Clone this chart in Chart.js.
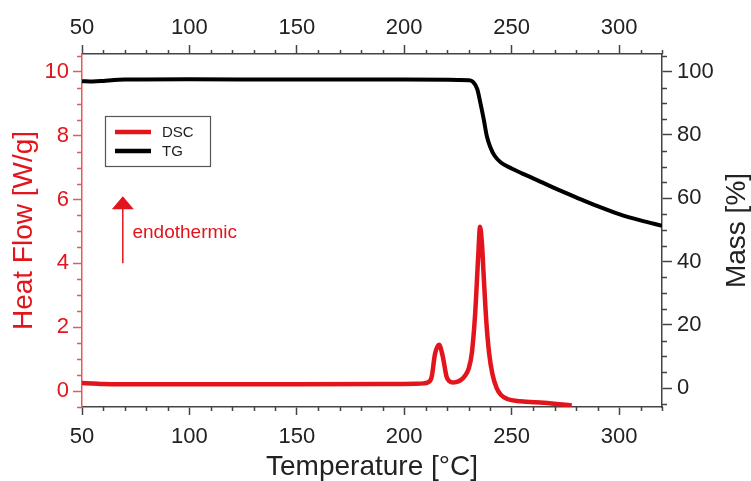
<!DOCTYPE html>
<html><head><meta charset="utf-8">
<script src="https://cdn.jsdelivr.net/npm/chart.js@4.4.0/dist/chart.umd.min.js"></script>
<style>html,body{margin:0;padding:0;background:#fff;}</style>
</head><body>
<canvas id="c" width="751" height="481"></canvas>
<script>
// ---- data ----
const dscTemp = [50,55,60,80,100,150,190,205,209,211,212.8,214.3,216.2,217.9,219.7,221,222.8,224,226,228,230,231.5,233,234.5,235.3,236.2,237,238.2,239.5,241,243,245,248,254,265,278];
const dscHeat = [0.25,0.24,0.22,0.21,0.21,0.21,0.22,0.23,0.24,0.27,0.45,1.15,1.45,1.1,0.45,0.31,0.27,0.28,0.33,0.45,0.7,1.2,2.4,4.3,5.15,4.6,3.6,2.2,1.2,0.55,0.1,-0.12,-0.25,-0.32,-0.37,-0.45];
const tgTemp = [50,55,60,65,70,100,150,200,225,230,232,234,235.5,237,238.5,240,242,245,250,255,260,270,280,290,300,310,320];
const tgMass = [97.0,96.9,97.1,97.4,97.5,97.6,97.5,97.5,97.4,97.3,96.8,94.5,90,85,79.5,76.3,73.5,71.3,69.4,67.8,66.3,63.2,60.3,57.5,55.0,53.0,51.3];
const tempTicks = [50,100,150,200,250,300];
const heatTicks = [0,2,4,6,8,10];
const massTicks = [0,20,40,60,80,100];
const seriesLabels = ['DSC','TG'];
const axisTitles = { x: 'Temperature [°C]', y: 'Heat Flow [W/g]', y2: 'Mass [%]' };
const arrowText = 'endothermic';

const RED = '#e3141b';
const FONT = "'Liberation Sans', Arial, sans-serif";

const minorX = []; for (let v = 60; v <= 320; v += 10) if (v % 50) minorX.push(v);
const minorY = []; for (let v = -0.5; v <= 10.5; v += 0.5) if (v % 2) minorY.push(v);
const minorY2 = []; for (let v = -5; v <= 105; v += 5) if (v % 20) minorY2.push(v);

const decor = {
  id: 'decor',
  afterDraw(chart) {
    const ctx = chart.ctx, a = chart.chartArea;
    const sx = chart.scales.x, sy = chart.scales.y, sy2 = chart.scales.y2;
    ctx.save();
    ctx.lineWidth = 1.5;
    // minor ticks
    ctx.strokeStyle = '#444';
    ctx.beginPath();
    minorX.forEach(v => { const p = Math.round(sx.getPixelForValue(v)) + 0.5;
      ctx.moveTo(p, a.bottom); ctx.lineTo(p, a.bottom + 4);
      ctx.moveTo(p, a.top); ctx.lineTo(p, a.top - 4); });
    minorY2.forEach(v => { const p = Math.round(sy2.getPixelForValue(v)) + 0.5;
      ctx.moveTo(a.right, p); ctx.lineTo(a.right + 5, p); });
    ctx.stroke();
    ctx.strokeStyle = '#e35a5a';
    ctx.beginPath();
    minorY.forEach(v => { const p = Math.round(sy.getPixelForValue(v)) + 0.5;
      ctx.moveTo(a.left, p); ctx.lineTo(a.left - 5, p); });
    ctx.stroke();

    // right axis title, reading bottom-to-top
    ctx.save();
    ctx.translate(sy2.right - 14, (a.top + a.bottom) / 2);
    ctx.rotate(-Math.PI / 2);
    ctx.font = '28px ' + FONT; ctx.fillStyle = '#222';
    ctx.textAlign = 'center'; ctx.textBaseline = 'middle';
    ctx.fillText(axisTitles.y2, 0, 0);
    ctx.restore();

    // legend box
    const lx = a.left + 23, ly = a.top + 62, lw = 105, lh = 50;
    ctx.strokeStyle = '#555'; ctx.lineWidth = 1.2;
    ctx.strokeRect(lx + 0.5, ly + 0.5, lw, lh);
    ctx.font = '15px ' + FONT; ctx.textBaseline = 'middle'; ctx.textAlign = 'left';
    chart.data.datasets.forEach((ds, i) => {
      const yy = ly + 16 + i * 19;
      ctx.strokeStyle = ds.borderColor; ctx.lineWidth = 4.5;
      ctx.beginPath(); ctx.moveTo(lx + 10, yy); ctx.lineTo(lx + 46, yy); ctx.stroke();
      ctx.fillStyle = '#222'; ctx.fillText(ds.label, lx + 57, yy + 1);
    });

    // endothermic arrow
    const ax = sx.getPixelForValue(69);
    const tip = sy.getPixelForValue(6.1), base = sy.getPixelForValue(4.0);
    ctx.strokeStyle = RED; ctx.fillStyle = RED; ctx.lineWidth = 1.5;
    ctx.beginPath(); ctx.moveTo(ax, tip + 10); ctx.lineTo(ax, base); ctx.stroke();
    ctx.beginPath(); ctx.moveTo(ax, tip); ctx.lineTo(ax - 11, tip + 13); ctx.lineTo(ax + 11, tip + 13); ctx.closePath(); ctx.fill();
    ctx.font = '19px ' + FONT; ctx.textBaseline = 'middle';
    ctx.fillText(arrowText, sx.getPixelForValue(73.5), sy.getPixelForValue(4.95));
    ctx.restore();
  }
};

const tickFont = { family: FONT, size: 22 };
const titleFont = { family: FONT, size: 28, lineHeight: 1 };

new Chart(document.getElementById('c'), {
  type: 'line',
  data: {
    datasets: [
      { label: seriesLabels[0], data: dscTemp.map((t, i) => ({ x: t, y: dscHeat[i] })),
        borderColor: RED, borderWidth: 4.5, pointRadius: 0, yAxisID: 'y', cubicInterpolationMode: 'monotone', fill: false },
      { label: seriesLabels[1], data: tgTemp.map((t, i) => ({ x: t, y: tgMass[i] })),
        borderColor: '#000', borderWidth: 4, pointRadius: 0, yAxisID: 'y2', cubicInterpolationMode: 'monotone', fill: false }
    ]
  },
  options: {
    responsive: false, animation: false, devicePixelRatio: 1,
    layout: { padding: 0 },
    plugins: { legend: { display: false }, tooltip: { enabled: false } },
    scales: {
      x: {
        type: 'linear', position: 'bottom', min: 50, max: 320,
        afterBuildTicks: s => { s.ticks = tempTicks.map(v => ({ value: v })); },
        afterFit: s => { s.height = 74; },
        ticks: { font: tickFont, color: '#222', padding: 9, maxRotation: 0, autoSkip: false },
        grid: { drawOnChartArea: false, tickLength: 8, tickColor: '#444', tickWidth: 1.5 },
        border: { color: '#444', width: 1.5 },
        title: { display: true, text: axisTitles.x, font: titleFont, color: '#222', padding: 0 }
      },
      x2: {
        type: 'linear', position: 'top', min: 50, max: 320,
        afterBuildTicks: s => { s.ticks = tempTicks.map(v => ({ value: v })); },
        afterFit: s => { s.height = 54; },
        ticks: { font: tickFont, color: '#222', padding: 4, maxRotation: 0, autoSkip: false },
        grid: { drawOnChartArea: false, tickLength: 9, tickColor: '#444', tickWidth: 1.5 },
        border: { color: '#444', width: 1.5 }
      },
      y: {
        type: 'linear', position: 'left', min: -0.5, max: 10.56,
        afterBuildTicks: s => { s.ticks = heatTicks.map(v => ({ value: v })); },
        afterFit: s => { s.width = 82; },
        ticks: { font: tickFont, color: RED, padding: 4 },
        grid: { drawOnChartArea: false, tickLength: 9, tickColor: '#e35a5a', tickWidth: 1.5 },
        border: { color: '#e35a5a', width: 1.5 },
        title: { display: true, text: axisTitles.y, font: titleFont, color: RED, padding: { top: 10, bottom: 0 } }
      },
      y2: {
        type: 'linear', position: 'right', min: -6, max: 105.6,
        afterBuildTicks: s => { s.ticks = massTicks.map(v => ({ value: v })); },
        afterFit: s => { s.width = 89; },
        ticks: { font: tickFont, color: '#222', padding: 5 },
        grid: { drawOnChartArea: false, tickLength: 10, tickColor: '#444', tickWidth: 1.5 },
        border: { color: '#444', width: 1.5 }
      }
    }
  },
  plugins: [decor]
});
</script>
</body></html>
